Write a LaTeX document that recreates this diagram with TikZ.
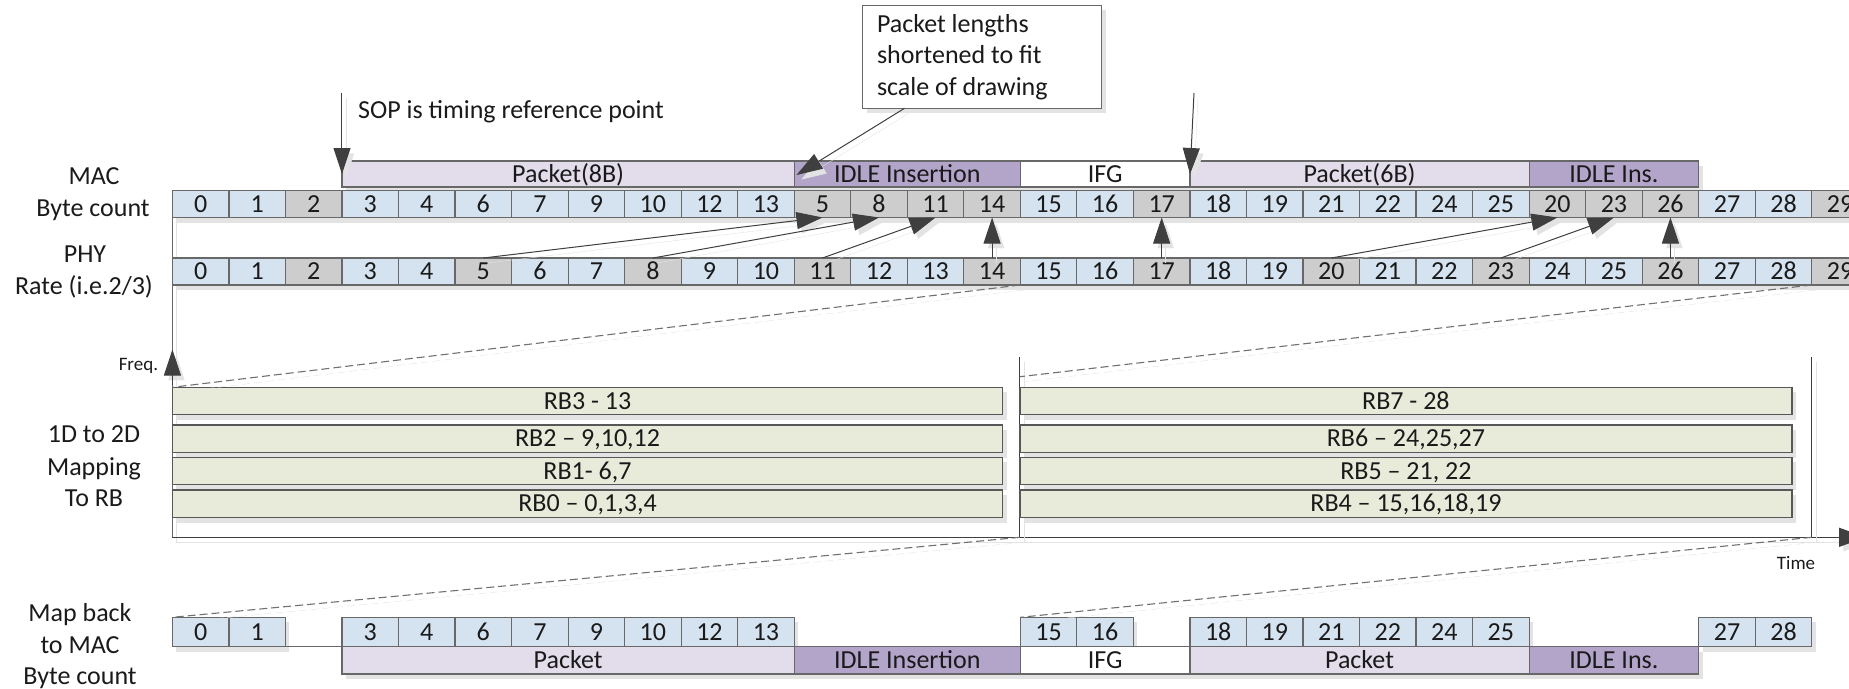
\documentclass[tikz,border=0pt]{standalone}
\usepackage{fontspec}
\setmainfont{Carlito}
\usetikzlibrary{arrows.meta,shadows}
\definecolor{cellblue}{HTML}{D5E3F0}
\definecolor{cellgray}{HTML}{CDCDCD}
\definecolor{pktc}{HTML}{E2DCEB}
\definecolor{idlec}{HTML}{B3A4CA}
\definecolor{rbc}{HTML}{E8EBDA}
\definecolor{edgec}{HTML}{686868}
\definecolor{rbedge}{HTML}{575757}
\definecolor{shadowc}{HTML}{E3E3E3}
\definecolor{arrc}{HTML}{3F3F3F}
\definecolor{dashc}{HTML}{707070}
\definecolor{axisc}{HTML}{6A6A6A}
\definecolor{txtc}{HTML}{1A1A1A}
\tikzset{
  bigfont/.style={font=\fontsize{26}{31.2}\selectfont, text=txtc},
  smallfont/.style={font=\fontsize{19}{22}\selectfont, text=txtc},
  boxshadow/.style={drop shadow={shadow xshift=4pt, shadow yshift=-5pt, fill=shadowc, opacity=1}},
  linesh/.style={preaction={draw=shadowc, transform canvas={shift={(4pt,-5pt)}}}},
  cellbox/.style={bigfont, boxshadow, draw=edgec, line width=1.2pt, minimum width=56.53pt,
    minimum height=27pt, inner sep=0pt, outer sep=0pt, anchor=north west,
    text height=16.4pt, text depth=0pt},
  barbox/.style={cellbox, minimum height=26pt},
  botcell/.style={cellbox, fill=cellblue, minimum height=29.4pt},
  botbar/.style={cellbox, minimum height=27.3pt},
  rbbox/.style={cellbox, fill=rbc, draw=rbedge, minimum height=27.5pt},
  calloutbox/.style={boxshadow, draw=edgec, fill=white, line width=1.2pt, minimum width=239.3pt,
    minimum height=103pt, inner sep=0pt, outer sep=0pt, anchor=north west},
  arr/.style={linesh, draw=arrc, line width=1pt, -{Triangle[length=26pt,width=17pt]}},
  dsh/.style={draw=dashc, line width=1.1pt, dash pattern=on 8pt off 4pt,
    preaction={draw=shadowc, dash pattern=on 8pt off 4pt, transform canvas={shift={(4pt,-5pt)}}}},
  axisl/.style={linesh, draw=axisc, line width=1.2pt},
  divl/.style={linesh, draw=arrc, line width=1pt},
  lbl/.style={bigfont, anchor=base, inner sep=0pt},
}
\begin{document}
\begin{tikzpicture}[x=1pt,y=-1pt]
\useasboundingbox (0,0) rectangle (1849,688);

% ---------- frame (time / frequency axes) ----------
\coordinate (axc) at (172.4,537.3);
\coordinate (tarr) at (1866,537.3);
\coordinate (dv1t) at (1019.9,357);
\coordinate (dv1b) at (1019.9,537.3);
\coordinate (dv2t) at (1811.7,357);
\coordinate (dv2b) at (1811.7,537.3);
\coordinate (dmid) at (1019.9,376.7);
\coordinate (fq0) at (172.4,385);
\coordinate (fq1) at (172.4,349.5);

\draw[axisl] (172.4,217.5) -- (axc);
\draw[axisl, -{Triangle[length=27pt,width=19pt]}, arrc] (axc) -- (tarr);
\draw[divl] (dv1t) -- (dv1b);
\draw[divl] (dv2t) -- (dv2b);
\draw[arr] (fq0) -- (fq1);
\node[smallfont, anchor=base east, inner sep=0pt] (freq) at (158.3,370) {Freq.};
\node[smallfont, anchor=base, inner sep=0pt] (time) at (1796,569.3) {Time};

% ---------- top bars ----------
\node[barbox, fill=pktc, minimum width=452.24pt] (tpk1) at (341.99,161) {Packet(8B)};
\node[barbox, fill=idlec, minimum width=226.12pt] (tidle1) at (794.23,161) {IDLE Insertion};
\node[barbox, fill=white, minimum width=169.59pt] (tifg) at (1020.35,161) {IFG};
\node[barbox, fill=pktc, minimum width=339.18pt] (tpk2) at (1189.94,161) {Packet(6B)};
\node[barbox, fill=idlec, minimum width=169.59pt] (tidle2) at (1529.12,161) {IDLE Ins.};

% ---------- MAC byte count row ----------
\foreach \lab [count=\i from 0] in {0,1,2,3,4,6,7,9,10,12,13,5,8,11,14,15,16,17,18,19,21,22,24,25,20,23,26,27,28,29}{
  \pgfmathtruncatemacro{\g}{mod(\lab,3)}
  \ifnum\g=2 \def\fc{cellgray}\else\def\fc{cellblue}\fi
  \node[cellbox, fill=\fc] (m\i) at ({172.4+56.53*\i},190.5) {\lab};
}
% ---------- PHY rate row ----------
\foreach \i in {0,...,29}{
  \pgfmathtruncatemacro{\g}{mod(\i,3)}
  \ifnum\g=2 \def\fc{cellgray}\else\def\fc{cellblue}\fi
  \node[cellbox, fill=\fc] (p\i) at ({172.4+56.53*\i},258) {\i};
}

% ---------- mapping arrows PHY -> MAC ----------
\draw[arr] (p5.north) -- (m11.south);
\draw[arr] (p8.north) -- (m12.south);
\draw[arr] (p11.north) -- (m13.south);
\draw[arr] (p14.north) -- (m14.south);
\draw[arr] (p17.north) -- (m17.south);
\draw[arr] (p20.north) -- (m24.south);
\draw[arr] (p23.north) -- (m25.south);
\draw[arr] (p26.north) -- (m26.south);

% ---------- annotations on top ----------
\coordinate (sopT) at (341.99,93);
\coordinate (sopH) at (341.99,174);
\draw[arr] (sopT) -- (sopH);
\node[bigfont, anchor=base west, inner sep=0pt] (sop) at (357.9,118.3) {SOP is timing reference point};

\node[calloutbox] (callout) at (862.5,5.3) {};
\node[bigfont, anchor=base west, inner sep=0pt] (c1) at (876.8,32.7) {Packet lengths};
\node[bigfont, anchor=base west, inner sep=0pt] (c2) at (876.8,63.7) {shortened to fit};
\node[bigfont, anchor=base west, inner sep=0pt] (c3) at (876.8,95) {scale of drawing};
\coordinate (cpt) at (904.5,108.3);
\coordinate (ctip) at (796.5,175);
\draw[arr] (cpt) -- (ctip);

\coordinate (ifgT) at (1194,93);
\coordinate (ifgH) at (1190,174);
\draw[arr] (ifgT) -- (ifgH);

% ---------- RB mapping ----------
\node[rbbox, minimum width=830.2pt] (rb3) at (172.4,387.3) {RB3 - 13};
\node[rbbox, minimum width=830.2pt] (rb2) at (172.4,425) {RB2 -- 9,10,12};
\node[rbbox, minimum width=830.2pt] (rb1) at (172.4,457.3) {RB1- 6,7};
\node[rbbox, minimum width=830.2pt] (rb0) at (172.4,490) {RB0 -- 0,1,3,4};
\node[rbbox, minimum width=772pt] (rb7) at (1019.9,387.3) {RB7 - 28};
\node[rbbox, minimum width=772pt] (rb6) at (1019.9,425) {RB6 -- 24,25,27};
\node[rbbox, minimum width=772pt] (rb5) at (1019.9,457.3) {RB5 -- 21, 22};
\node[rbbox, minimum width=772pt] (rb4) at (1019.9,490) {RB4 -- 15,16,18,19};

% ---------- bottom row: map back ----------
\foreach \p/\lab in {0/0,1/1,3/3,4/4,5/6,6/7,7/9,8/10,9/12,10/13,15/15,16/16,18/18,19/19,20/21,21/22,22/24,23/25,27/27,28/28}{
  \node[botcell] (b\lab) at ({172.4+56.53*\p},617.3) {\lab};
}
\draw[edgec, line width=1.2pt] (b1.south east) -- (b3.south west);
\node[botbar, fill=pktc, minimum width=452.24pt] (bpk1) at (341.99,646.7) {Packet};
\node[botbar, fill=idlec, minimum width=226.12pt] (bidle1) at (794.23,646.7) {IDLE Insertion};
\node[botbar, fill=white, minimum width=169.59pt] (bifg) at (1020.35,646.7) {IFG};
\node[botbar, fill=pktc, minimum width=339.18pt] (bpk2) at (1189.94,646.7) {Packet};
\node[botbar, fill=idlec, minimum width=169.59pt] (bidle2) at (1529.12,646.7) {IDLE Ins.};

% ---------- dashed projection lines ----------
\draw[dsh] (p15.south west) -- (rb3.north west);
\draw[dsh] (p29.south west) -- (dmid);
\draw[dsh] (dv1b) -- (b0.north west);
\draw[dsh] (dv2b) -- (b15.north west);

% ---------- row labels ----------
\node[lbl] (lmac1) at (94,184) {MAC};
\node[lbl] (lmac2) at (93,216) {Byte count};
\node[lbl] (lphy1) at (85,262.3) {PHY};
\node[lbl] (lphy2) at (84,294) {Rate (i.e.2/3)};
\node[lbl] (lrb1) at (94,442.7) {1D to 2D};
\node[lbl] (lrb2) at (94,475) {Mapping};
\node[lbl] (lrb3) at (94,506) {To RB};
\node[lbl] (lmb1) at (80,621.7) {Map back};
\node[lbl] (lmb2) at (80,653.3) {to MAC};
\node[lbl] (lmb3) at (80,684) {Byte count};
\end{tikzpicture}
\end{document}
